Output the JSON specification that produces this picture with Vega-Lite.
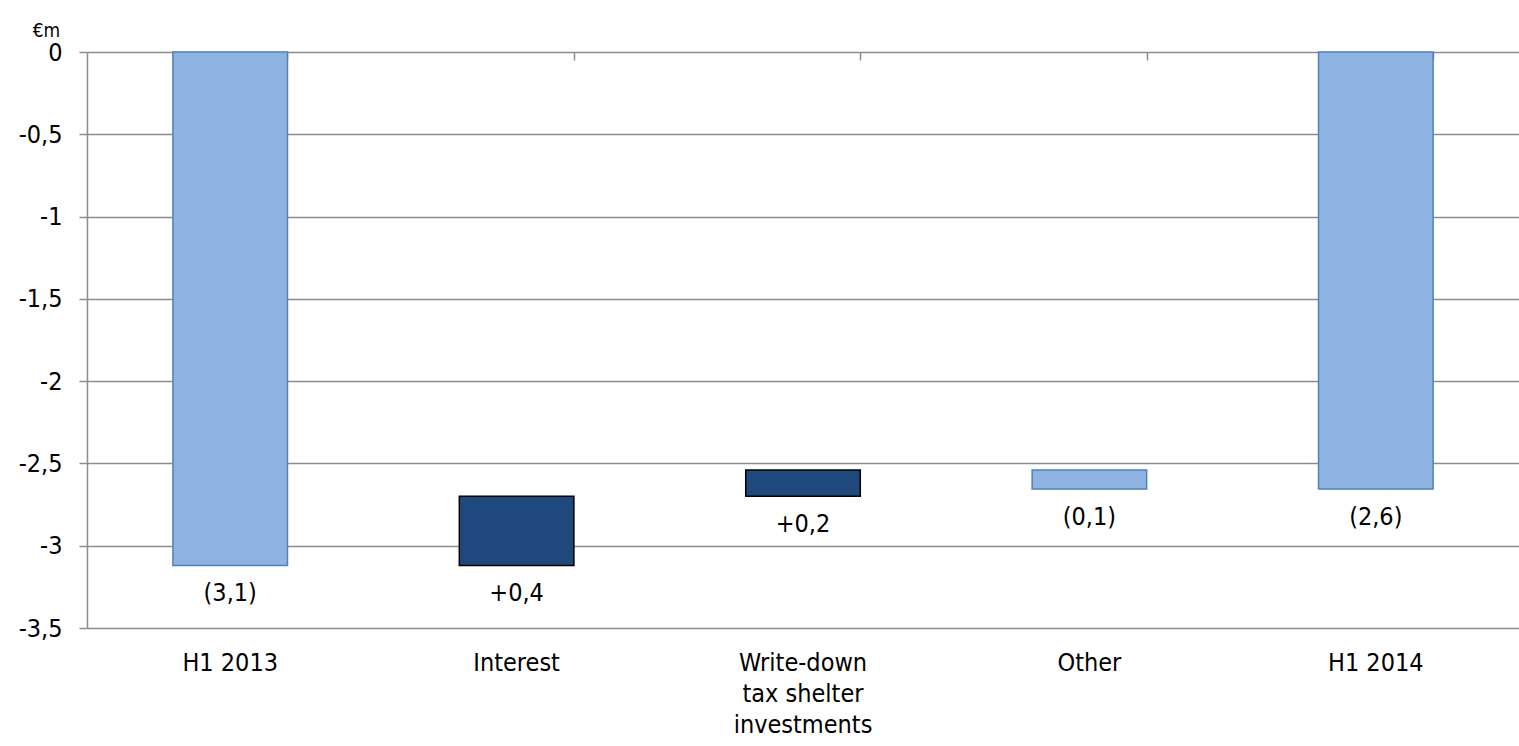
{
  "$schema": "https://vega.github.io/schema/vega-lite/v6.json",
  "autosize": "none",
  "padding": {"left": 87, "top": 52, "right": 0, "bottom": 118},
  "width": 1432,
  "height": 576,
  "background": "white",
  "config": {
    "view": {"stroke": null},
    "font": "DejaVu Sans Condensed",
    "text": {"font": "DejaVu Sans Condensed"}
  },
  "data": {
    "values": [
      {"category": "H1 2013", "start": 0, "end": -3.12, "label": "(3,1)", "kind": "light"},
      {"category": "Interest", "start": -3.12, "end": -2.70, "label": "+0,4", "kind": "dark"},
      {"category": "Write-down tax shelter investments", "start": -2.70, "end": -2.54, "label": "+0,2", "kind": "dark"},
      {"category": "Other", "start": -2.54, "end": -2.655, "label": "(0,1)", "kind": "light"},
      {"category": "H1 2014", "start": 0, "end": -2.655, "label": "(2,6)", "kind": "light"}
    ]
  },
  "transform": [{"calculate": "min(datum.start, datum.end)", "as": "low"}],
  "resolve": {"axis": {"x": "independent"}},
  "layer": [
    {
      "mark": {"type": "bar", "strokeWidth": 1.5},
      "encoding": {
        "x": {
          "field": "category", "type": "nominal", "sort": null,
          "scale": {"paddingInner": 0.6, "paddingOuter": 0.3},
          "axis": {
            "orient": "bottom", "title": null, "ticks": false, "domain": false,
            "labelAngle": 0, "labelFontSize": 25, "labelColor": "#000000",
            "labelPadding": 22, "labelLimit": 0, "labelLineHeight": 31,
            "labelFont": "DejaVu Sans Condensed",
            "labelExpr": "datum.label == 'Write-down tax shelter investments' ? ['Write-down', 'tax shelter', 'investments'] : datum.label"
          }
        },
        "y": {
          "field": "start", "type": "quantitative",
          "scale": {"domain": [-3.5, 0], "nice": false, "zero": false},
          "axis": {
            "values": [0, -0.5, -1, -1.5, -2, -2.5, -3, -3.5],
            "labelExpr": "replace(replace(format(datum.value, '.1~f'), '.', ','), '\u2212', '-')",
            "labelFontSize": 25, "labelColor": "#000000", "labelFont": "DejaVu Sans Condensed",
            "labelPadding": 17, "tickSize": 8, "tickColor": "#8c8c8c", "tickWidth": 1.5,
            "domainColor": "#8c8c8c", "domainWidth": 1.5,
            "grid": true, "gridColor": "#8c8c8c", "gridWidth": 1.5,
            "title": "€m", "titleAngle": 0, "titleFontSize": 19, "titleFontWeight": "normal",
            "titleFont": "DejaVu Sans Condensed", "titleColor": "#000000",
            "titleX": -41, "titleY": -22, "titleAlign": "center", "titleBaseline": "middle"
          }
        },
        "y2": {"field": "end"},
        "fill": {
          "field": "kind", "type": "nominal",
          "scale": {"domain": ["light", "dark"], "range": ["#8EB3E2", "#1F497D"]},
          "legend": null
        },
        "stroke": {
          "field": "kind", "type": "nominal",
          "scale": {"domain": ["light", "dark"], "range": ["#4F81BD", "#000000"]},
          "legend": null
        }
      }
    },
    {
      "mark": {"type": "text", "baseline": "middle", "align": "center", "dy": 28, "fontSize": 25, "font": "DejaVu Sans Condensed", "color": "#000000"},
      "encoding": {
        "x": {
          "field": "category", "type": "nominal", "sort": null,
          "axis": {
            "orient": "top", "title": null, "labels": false, "domain": false,
            "ticks": true, "tickBand": "extent", "tickSize": -8, "tickColor": "#8c8c8c", "tickWidth": 1.5
          }
        },
        "y": {"field": "low", "type": "quantitative"},
        "text": {"field": "label"}
      }
    }
  ]
}
